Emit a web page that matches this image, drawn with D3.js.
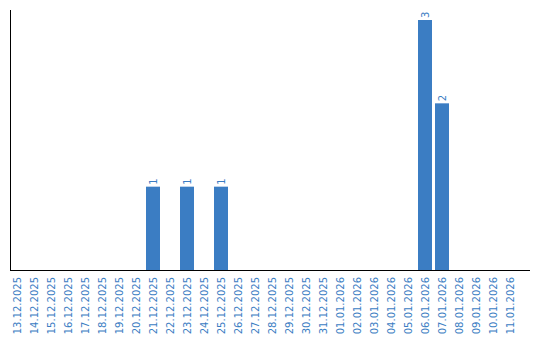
<!DOCTYPE html>
<html>
<head>
<meta charset="utf-8">
<script src="https://cdn.jsdelivr.net/npm/d3@7"></script>
<style>
  body { margin: 0; background: #fff; }
</style>
</head>
<body>
<div class="chart"></div>
<script>
const dates = ["13.12.2025","14.12.2025","15.12.2025","16.12.2025","17.12.2025","18.12.2025",
  "19.12.2025","20.12.2025","21.12.2025","22.12.2025","23.12.2025","24.12.2025","25.12.2025",
  "26.12.2025","27.12.2025","28.12.2025","29.12.2025","30.12.2025","31.12.2025","01.01.2026",
  "02.01.2026","03.01.2026","04.01.2026","05.01.2026","06.01.2026","07.01.2026","08.01.2026",
  "09.01.2026","10.01.2026","11.01.2026"];
const counts = [0,0,0,0,0,0,0,0,1,0,1,0,1,0,0,0,0,0,0,0,0,0,0,0,3,2,0,0,0,0];

const data = dates.map((d, i) => ({date: d, count: counts[i]}));

const w = 540, h = 340;
const blue = "#3b7dc3";

const svg = d3.select(".chart")
  .append("svg")
  .attr("width", w)
  .attr("height", h);

const xScale = d3.scaleBand()
  .domain(dates)
  .range([8.5, 518.5])
  .paddingInner(3 / 17)
  .paddingOuter(3 / 34);

const yScale = d3.scaleLinear()
  .domain([0, 3])
  .range([270, 20]);

// bars
svg.selectAll(".bar")
  .data(data.filter(d => d.count > 0))
  .enter()
  .append("rect")
  .attr("x", d => xScale(d.date))
  .attr("y", d => yScale(d.count))
  .attr("width", xScale.bandwidth())
  .attr("height", d => yScale(0) - yScale(d.count))
  .attr("fill", blue);

// value labels
svg.selectAll(".val")
  .data(data.filter(d => d.count > 0))
  .enter()
  .append("text")
  .attr("transform", d => `translate(${xScale(d.date) + xScale.bandwidth() / 2},${yScale(d.count) - 2}) rotate(-90)`)
  .attr("dy", "0.35em")
  .attr("text-anchor", "start")
  .attr("font-family", "DejaVu Sans, Verdana, sans-serif")
  .attr("font-size", 10)
  .attr("fill", blue)
  .text(d => d.count);

// x axis
const xAxis = d3.axisBottom(xScale).tickSize(0).tickPadding(0);
const xAxisGroup = svg.append("g")
  .attr("transform", `translate(0,${yScale(0)})`)
  .call(xAxis)
  .call(g => g.select(".domain").remove());

xAxisGroup.selectAll(".tick text")
  .attr("font-family", "DejaVu Sans, Verdana, sans-serif")
  .attr("font-size", 10)
  .attr("fill", blue)
  .attr("text-anchor", "end")
  .attr("transform", "rotate(-90)")
  .attr("x", -7)
  .attr("y", 0)
  .attr("dy", "0.35em");

// axis lines
svg.append("line")
  .attr("x1", 11).attr("x2", 530)
  .attr("y1", yScale(0) + 0.5).attr("y2", yScale(0) + 0.5)
  .attr("stroke", "#000");

svg.append("line")
  .attr("x1", 10.5).attr("x2", 10.5)
  .attr("y1", 10).attr("y2", yScale(0) + 1)
  .attr("stroke", "#000");
</script>
</body>
</html>
